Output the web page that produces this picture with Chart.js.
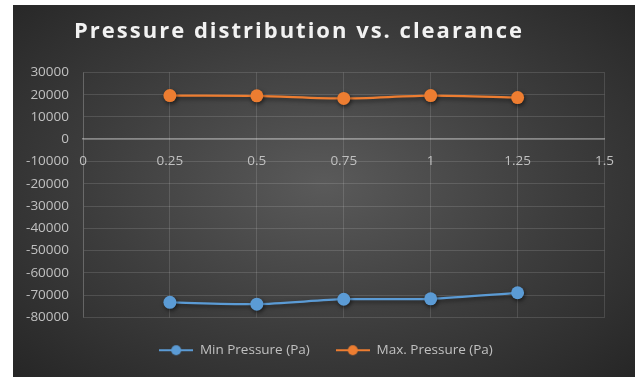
<!DOCTYPE html>
<html>
<head>
<meta charset="utf-8">
<script src="https://cdn.jsdelivr.net/npm/chart.js@4.4.1/dist/chart.umd.min.js"></script>
<style>
html, body { margin: 0; padding: 0; background: #fff; width: 635px; height: 377px; overflow: hidden; }
#bg { position: absolute; left: 13px; top: 5px; width: 622px; height: 372px;
  background: radial-gradient(ellipse farthest-corner at 50% 48%, #5a5a5a 0%, #3c3c3c 55%, #262626 100%); }
#wrap { position: absolute; left: -17px; top: 5px; width: 645px; height: 372px; }
</style>
</head>
<body>
<div id="bg"></div>
<div id="wrap"><canvas id="main-chart"></canvas></div>
<script>
// values
var clearance = [0.25, 0.5, 0.75, 1, 1.25];
var minPressure = [-73200, -74000, -71800, -71600, -68900];
var maxPressure = [19600, 19500, 18300, 19600, 18700];
var seriesNames = ['Min Pressure (Pa)', 'Max. Pressure (Pa)'];
var seriesColors = ['#5b9bd5', '#ed7d31'];

var gridColor = 'rgba(255,255,255,0.13)';
var tickColor = '#c0c0c0';
var fontFamily = '"Open Sans", sans-serif';

function legendIcon(color) {
	var c = document.createElement('canvas');
	c.width = 34; c.height = 12;
	var g = c.getContext('2d');
	g.strokeStyle = color;
	g.lineWidth = 2;
	g.beginPath(); g.moveTo(0, 6); g.lineTo(34, 6); g.stroke();
	g.fillStyle = color;
	g.beginPath(); g.arc(17, 6, 5, 0, Math.PI * 2); g.fill();
	return c;
}

function points(xs, ys) {
	return xs.map(function (x, i) { return { x: x, y: ys[i] }; });
}

var shadow = {
	id: 'shadow',
	beforeDatasetsDraw: function (chart) {
		var ctx = chart.ctx;
		ctx.save();
		ctx.shadowColor = 'rgba(0,0,0,0.55)';
		ctx.shadowBlur = 4;
		ctx.shadowOffsetX = 1;
		ctx.shadowOffsetY = 2;
	},
	afterDatasetsDraw: function (chart) {
		chart.ctx.restore();
	}
};

var ctx = document.getElementById('main-chart');
var chart = new Chart(ctx, {
	type: 'line',
	data: {
		datasets: [
			{ label: seriesNames[0], data: points(clearance, minPressure) },
			{ label: seriesNames[1], data: points(clearance, maxPressure) }
		].map(function (d, i) {
			d.borderColor = seriesColors[i];
			d.backgroundColor = seriesColors[i];
			d.borderWidth = 2.25;
			d.pointRadius = 6.5;
			d.pointHoverRadius = 6.5;
			d.pointBorderWidth = 0;
			d.tension = 0.25;
			return d;
		})
	},
	options: {
		responsive: true,
		maintainAspectRatio: false,
		animation: false,
		layout: { padding: { left: 0, right: 9, top: 0, bottom: 10 } },
		plugins: {
			title: {
				display: true,
				text: 'Pressure distribution vs. clearance',
				color: '#f2f2f2',
				font: { family: fontFamily, size: 22, weight: 'bold' },
				padding: { top: 14, bottom: 27 }
			},
			legend: {
				position: 'bottom',
				labels: {
					color: tickColor,
					font: { family: fontFamily, size: 13.5 },
					usePointStyle: true,
					pointStyleWidth: 34,
					padding: 26,
					generateLabels: function (c) {
						var items = Chart.defaults.plugins.legend.labels.generateLabels(c);
						items.forEach(function (it, i) { it.pointStyle = legendIcon(seriesColors[i]); });
						return items;
					}
				}
			},
			tooltip: { enabled: false }
		},
		scales: {
			x: {
				type: 'linear',
				position: { y: 0 },
				min: 0, max: 1.5,
				ticks: { stepSize: 0.25, color: tickColor, padding: 14,
					font: { family: fontFamily, size: 13.5 },
					callback: function (v) { return String(v); } },
				grid: { color: gridColor, drawTicks: false },
				border: { color: 'rgba(255,255,255,0.38)', width: 1.5 }
			},
			y: {
				min: -80000, max: 30000,
				ticks: { stepSize: 10000, color: tickColor, padding: 14,
					font: { family: fontFamily, size: 13.5 },
					callback: function (v) { return String(v); } },
				grid: { color: gridColor, drawTicks: false },
				border: { color: gridColor },
				afterFit: function (s) { s.width = 100; }
			}
		}
	},
	plugins: [shadow]
});

// nudge title (spaced letters) and legend to where they sit in the picture
var tb = chart.titleBlock, tbDraw = tb.draw;
tb.draw = function () {
	var c = chart.ctx;
	c.save();
	c.letterSpacing = '2px';
	c.translate(-2, 0);
	tbDraw.apply(this, arguments);
	c.restore();
};
var lg = chart.legend, lgDraw = lg.draw;
lg.draw = function () {
	var c = chart.ctx;
	c.save();
	c.translate(25, 0);
	lgDraw.apply(this, arguments);
	c.restore();
};
chart.draw();
</script>
</body>
</html>
